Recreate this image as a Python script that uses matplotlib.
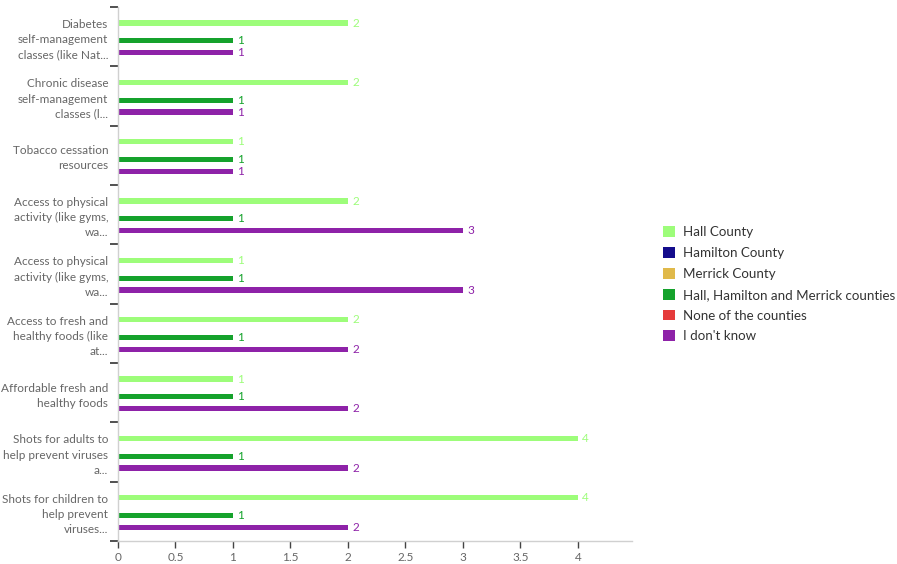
import numpy as np
import matplotlib.pyplot as plt

plt.rcParams['font.family'] = ['Lato', 'DejaVu Sans']

# categorias (de cima para baixo)
categorias = [
    "Diabetes\nself-management\nclasses (like Nat...",
    "Chronic disease\nself-management\nclasses (l...",
    "Tobacco cessation\nresources",
    "Access to physical\nactivity (like gyms,\nwa...",
    "Access to physical\nactivity (like gyms,\nwa...",
    "Access to fresh and\nhealthy foods (like\nat...",
    "Affordable fresh and\nhealthy foods",
    "Shots for adults to\nhelp prevent viruses\na...",
    "Shots for children to\nhelp prevent\nviruses...",
]

series = ["Hall County", "Hamilton County", "Merrick County",
          "Hall, Hamilton and Merrick counties", "None of the counties", "I don't know"]
cores = ["#9dfd7a", "#140c8c", "#e0b94a", "#15a22c", "#e53b3b", "#8e22a8"]

hall = [2, 2, 1, 2, 1, 2, 1, 4, 4]
hamilton = [0, 0, 0, 0, 0, 0, 0, 0, 0]
merrick = [0, 0, 0, 0, 0, 0, 0, 0, 0]
hall_ham_mer = [1, 1, 1, 1, 1, 1, 1, 1, 1]
nenhum = [0, 0, 0, 0, 0, 0, 0, 0, 0]
nao_sei = [1, 1, 1, 3, 3, 2, 2, 2, 2]
valores = [hall, hamilton, merrick, hall_ham_mer, nenhum, nao_sei]

fig = plt.figure(figsize=(8.97, 5.64), dpi=100)
ax = fig.add_axes([0.1315, 0.0408, 0.573, 0.9468])

n = len(categorias)
y = np.arange(n)
passo = 0.1
altura = 0.085

for j, (nome, cor, vals) in enumerate(zip(series, cores, valores)):
    pos = y + (j - 2.5) * passo + 0.02
    ax.barh(pos, vals, height=altura, color=cor, label=nome)
    for p, v in zip(pos, vals):
        if v > 0:
            ax.annotate(str(v), (v, p), xytext=(3, 0), textcoords='offset points',
                        va='center', ha='left', color=cor, fontsize=8.5)

ax.set_ylim(n - 0.5, -0.5)
ax.set_xlim(0, 4.47)
ax.set_xticks(np.arange(0, 4.5, 0.5))
ax.set_xticklabels(['0', '0.5', '1', '1.5', '2', '2.5', '3', '3.5', '4'])

# ticks principais nas divisões, rótulos no centro dos grupos
ax.set_yticks(np.arange(-0.5, n, 1))
ax.set_yticklabels([])
ax.set_yticks(y, minor=True)
ax.set_yticklabels(categorias, minor=True, fontsize=8.5, color='#666666', linespacing=1.45)
ax.tick_params(axis='y', which='minor', length=0, pad=7)
ax.tick_params(axis='y', which='major', length=6, width=1.2, color='#333333')
ax.tick_params(axis='x', length=5, width=1, color='#444444', labelsize=8.5,
               labelcolor='#666666', pad=3)

for s in ['top', 'right']:
    ax.spines[s].set_visible(False)
for s in ['left', 'bottom']:
    ax.spines[s].set_color('#d0d0d0')
    ax.spines[s].set_linewidth(1)

fig.legend(loc='upper left', bbox_to_anchor=(0.7335, 0.608), frameon=False,
           fontsize=9.6, handlelength=0.85, handleheight=0.85, labelspacing=0.66,
           handletextpad=0.6, labelcolor='#333333', borderaxespad=0)

plt.savefig('out.png', dpi=100)
